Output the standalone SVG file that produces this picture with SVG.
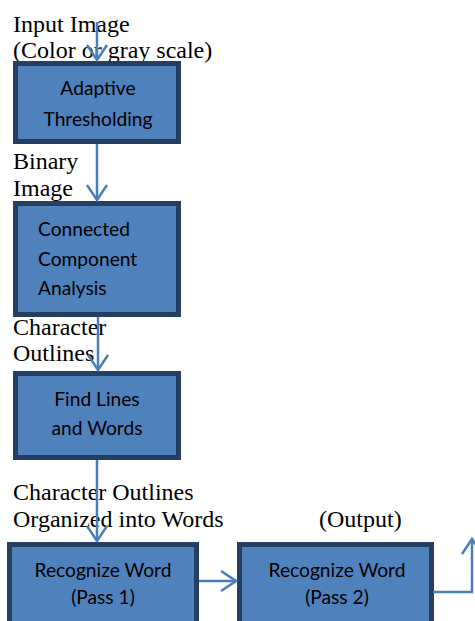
<svg xmlns="http://www.w3.org/2000/svg" width="475" height="621" viewBox="0 0 475 621">
<style>
.box{fill:#4F81BD;stroke:#243F60;stroke-width:5}
.lbl{font-family:"Liberation Serif","Times New Roman",serif;font-size:24px;fill:#000}
.in{font-family:Lato,"Liberation Sans",sans-serif;font-size:19.2px;fill:#000}
.c{text-anchor:middle}
.con{fill:none;stroke:#4A7EBB;stroke-width:2.5}
</style>
<defs>
<marker id="ah" markerUnits="userSpaceOnUse" viewBox="0 0 18 24" markerWidth="18" markerHeight="24" refX="16" refY="12" orient="auto">
<path d="M1,2 L16,12 L1,22" fill="none" stroke="#4A7EBB" stroke-width="2.5"/>
</marker>
</defs>
<rect width="475" height="621" fill="#fff"/>
<g id="labels">
<text class="lbl" x="13" y="32">Input Image</text>
<text class="lbl" x="13" y="58">(Color or gray scale)</text>
<text class="lbl" x="13" y="169">Binary</text>
<text class="lbl" x="13" y="196">Image</text>
<text class="lbl" x="13" y="335">Character</text>
<text class="lbl" x="13" y="361">Outlines</text>
<text class="lbl" x="13" y="500">Character Outlines</text>
<text class="lbl" x="13" y="527">Organized into Words</text>
<text class="lbl" x="319" y="527">(Output)</text>
</g>
<g id="adaptive">
<rect class="box" x="15.5" y="63.5" width="163" height="78"/>
<text class="in c" x="98" y="95">Adaptive</text>
<text class="in c" x="98" y="126">Thresholding</text>
</g>
<g id="connected">
<rect class="box" x="15.5" y="203.5" width="163" height="111"/>
<text class="in" x="38" y="236">Connected</text>
<text class="in" x="38" y="266">Component</text>
<text class="in" x="38" y="295">Analysis</text>
</g>
<g id="findlines">
<rect class="box" x="15.5" y="373.5" width="163" height="84"/>
<text class="in c" x="97" y="406">Find Lines</text>
<text class="in c" x="97" y="435">and Words</text>
</g>
<g id="pass1">
<rect class="box" x="9.5" y="544.5" width="187" height="100"/>
<text class="in c" x="103" y="577">Recognize Word</text>
<text class="in c" x="103" y="604">(Pass 1)</text>
</g>
<g id="pass2">
<rect class="box" x="239.5" y="544.5" width="192" height="100"/>
<text class="in c" x="337" y="577">Recognize Word</text>
<text class="in c" x="337" y="604">(Pass 2)</text>
</g>
<g id="connectors">
<path class="con" d="M97,22 V60" marker-end="url(#ah)"/>
<path class="con" d="M97,144 V200" marker-end="url(#ah)"/>
<path class="con" d="M98,317 V370" marker-end="url(#ah)"/>
<path class="con" d="M97,460 V541" marker-end="url(#ah)"/>
<path class="con" d="M199,581 H236" marker-end="url(#ah)"/>
<path class="con" d="M433,592 H472 V539" marker-end="url(#ah)"/>
</g>
</svg>
